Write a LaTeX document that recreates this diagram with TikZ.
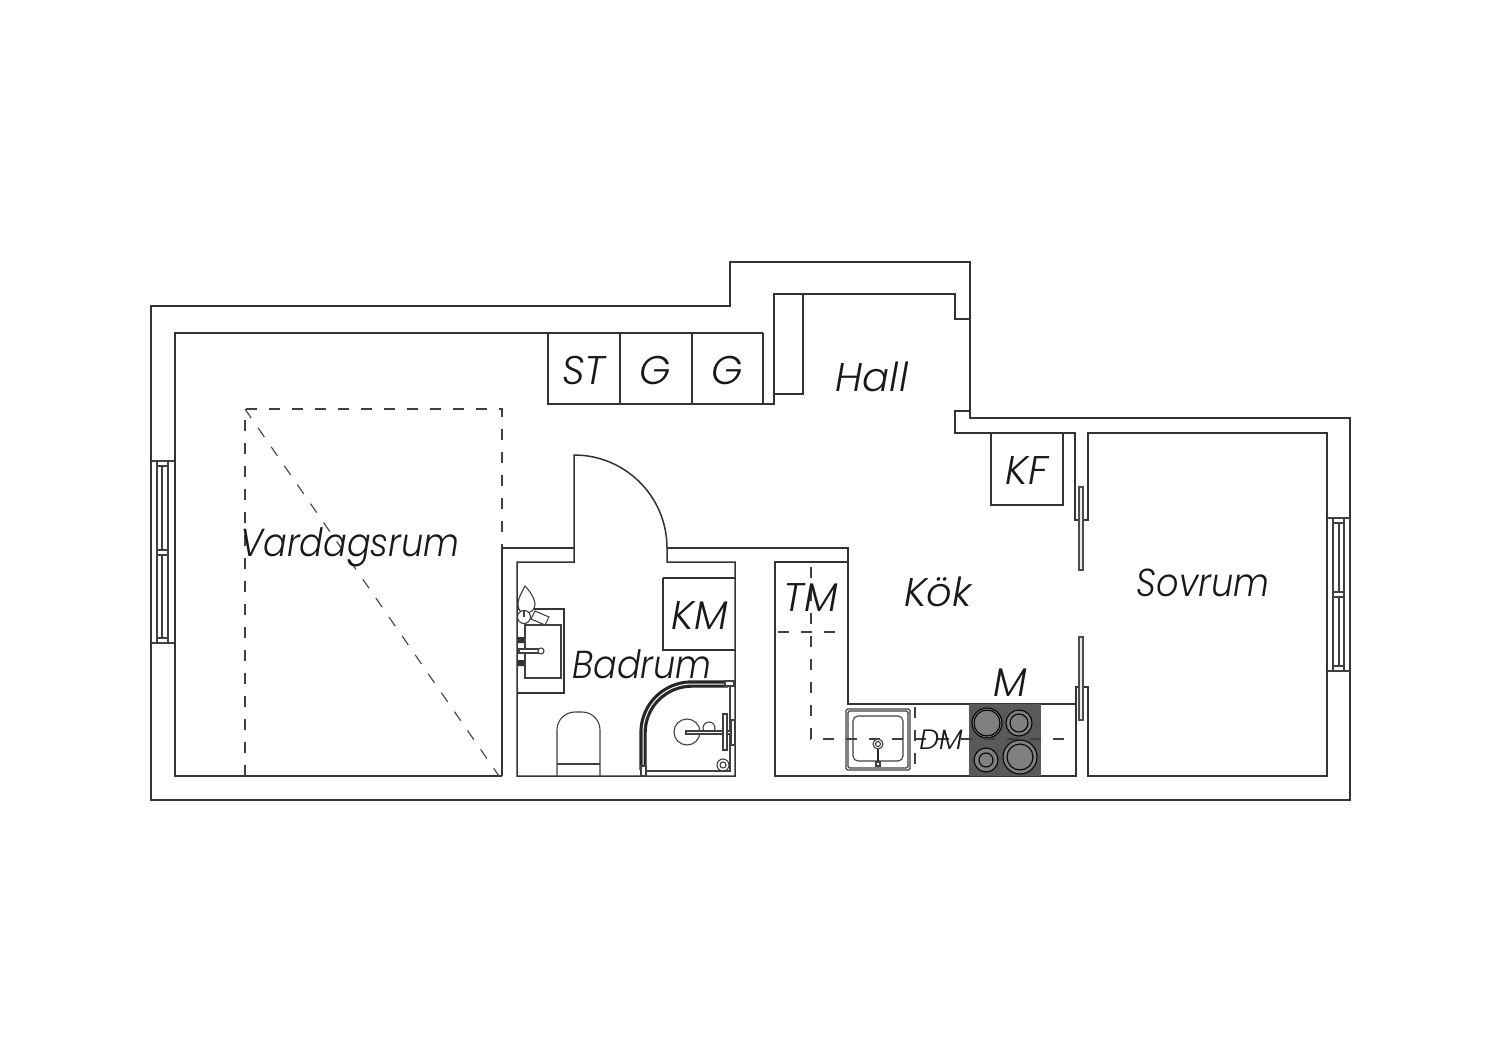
\documentclass[tikz,border=0pt]{standalone}
\usepackage{fontspec}
\newfontfamily\lblfont{Poppins}[UprightFont=* Light,ItalicFont=* Light Italic,FakeStretch=0.9]
\newfontfamily\capfont{Poppins}[UprightFont=* Light,ItalicFont=* Light Italic]
\tikzset{
  wall/.style={draw=black!80,line width=1.5pt,line join=miter},
  thin line/.style={draw=black!75,line width=1.1pt},
  dashline/.style={draw=black!75,line width=1.1pt,dash pattern=on 11pt off 12pt},
  lbl/.style={font=\lblfont\itshape\fontsize{39}{39}\selectfont,text=black!90,inner sep=0pt,anchor=base},
  cap lbl/.style={font=\capfont\itshape\fontsize{40}{40}\selectfont,text=black!90,inner sep=0pt,anchor=base},
  small lbl/.style={font=\capfont\itshape\fontsize{28}{28}\selectfont,text=black!90,inner sep=0pt,anchor=base},
  burner/.style={draw=black,line width=1.1pt,fill=black!50},
  doorleaf/.style={draw=black!70,line width=1.1pt,fill=black!8},
}
\begin{document}
\begin{tikzpicture}[x=1pt,y=-1pt]
\fill[white] (0,0) rectangle (1500,1060);
\useasboundingbox (0,0) rectangle (1500,1060);
% outer wall
\draw[wall] (151,306) -- (730,306) -- (730,262) -- (970,262) -- (970,418) -- (1350,418) -- (1350,800) -- (151,800) -- cycle;
% living room and hall outline
\draw[wall] (502,776) -- (175,776) -- (175,333) -- (763,333);
\draw[wall] (548,333) -- (548,404) -- (774,404) -- (774,294) -- (955,294) -- (955,319) -- (970,319);
\draw[wall] (620,333) -- (620,404) (692,333) -- (692,404) (763,333) -- (763,404);
\draw[wall] (774,394) -- (803,394) -- (803,294);
\draw[wall] (970,411) -- (955,411) -- (955,433) -- (1075,433) -- (1075,520) -- (1088,520) -- (1088,433) -- (1327,433) -- (1327,776) -- (1088,776) -- (1088,687) -- (1076,687) -- (1076,776) -- (775,776) -- (775,562) -- (848,562);
% central walls and door
\draw[wall] (502,776) -- (502,548) -- (574,548);
\draw[wall] (517,776) -- (517,562) -- (574,562) -- (574,455) .. controls (625.4,455) and (667,496.6) .. (667,548) -- (667,562) -- (735,562) -- (735,776) -- cycle;
\draw[wall] (667,548) -- (848,548) -- (848,704) -- (1076,704);
% cabinets
\draw[wall] (663,578) -- (735,578) (663,578) -- (663,650) -- (735,650);
\draw[wall] (991,433) -- (991,505) -- (1063,505) -- (1063,433);
% dashed bed
\draw[dashline] (245,776) -- (245,409) -- (502,409) -- (502,548);
\draw[dashline] (245,409) -- (499,776);
% left window
\fill[white] (152,461) rectangle (174,643);
\draw[wall] (151,455) -- (151,650) (175,455) -- (175,650);
\draw[thin line] (151,461) -- (175,461) (151,643) -- (175,643);
\draw[thin line] (157,461) rectangle (168,643);
\draw[thin line] (157,466) -- (168,466) (157,638) -- (168,638) (157,550) -- (168,550) (157,555) -- (168,555);
\draw[thin line] (162,466) -- (162,550) (162,555) -- (162,638);
% right window
\draw[thin line] (1327,518) -- (1350,518) (1327,671) -- (1350,671);
\draw[thin line] (1333,518) rectangle (1344,671);
\draw[thin line] (1333,523) -- (1344,523) (1333,666) -- (1344,666) (1333,592) -- (1344,592) (1333,597) -- (1344,597);
\draw[thin line] (1339,523) -- (1339,592) (1339,597) -- (1339,666);
% kitchen doors
\draw[doorleaf] (1079,487) rectangle (1083,570);
\draw[doorleaf] (1079,637) rectangle (1083,720);
% wash basin
\draw[wall] (517,609) -- (564,609) -- (564,693) -- (517,693);
\draw[thin line] (525,625) rectangle (561,678);
\draw[thin line,fill=white] (525,586) .. controls (531,592) and (535,600) .. (535,604) .. controls (535,610) and (531,613) .. (525,613) .. controls (520,613) and (518,609) .. (518,604) .. controls (518,598) and (522,592) .. (525,586) -- cycle;
\draw[thin line,fill=white] (524,617) circle[radius=6.5pt];
\draw[thin line] (524,611) -- (524,617);
\draw[thin line,fill=white] (535,611) -- (549,617) -- (545,625) -- (531,619) -- cycle;
\fill[black!80] (518,637) rectangle (524,643) (518,660) rectangle (524,666);
\draw[thin line,fill=white] (519,649) rectangle (541,653);
\draw[thin line,fill=white] (541,651) circle[radius=3pt];
% toilet
\draw[thin line,rounded corners=18pt] (557,776) -- (557,712) -- (600,712) -- (600,776);
\draw[thin line] (557,764) -- (600,764);
% shower
\draw[draw=black!85,line width=3.2pt,double=white,double distance=1pt] (643,770) -- (643,733) .. controls (643,705.4) and (665,684) .. (692,684) -- (728,684);
\draw[thin line] (730,684) -- (730,771) -- (645,771);
\draw[thin line,fill=white] (641,766) rectangle (646,776);
\draw[thin line,fill=white] (725,681) rectangle (734,686);
\draw[thin line] (687,732) circle[radius=13pt];
\draw[thin line,fill=white] (709,728) circle[radius=6pt];
\draw[thin line,fill=white] (686,731) rectangle (733,734);
\draw[thin line,fill=white] (723,714) rectangle (727,750);
\draw[thin line,fill=white] (731,720) rectangle (735,745);
\draw[thin line] (723,765) circle[radius=6pt] (723,765) circle[radius=3pt];
% kitchen sink
\draw[thin line,fill=white,rounded corners=1.5pt] (846,709) rectangle (910,770);
\draw[thin line,rounded corners=1.5pt] (848,711) rectangle (908,768);
\draw[thin line,rounded corners=5pt] (853,716) rectangle (903,761);
% hob
\fill[black!65] (969,704) rectangle (1041,776);
\draw[burner] (987,723) circle[radius=15pt] (987,723) circle[radius=13pt];
\draw[burner] (1019,723) circle[radius=13pt] (1019,723) circle[radius=9pt];
\draw[burner] (986,760) circle[radius=12pt] (986,760) circle[radius=7pt];
\draw[burner] (1020,757) circle[radius=17pt] (1020,757) circle[radius=13pt];
% dashed kitchen lines
\draw[dashline] (811,567) -- (811,739) -- (1075,739);
\draw[dashline] (778,632) -- (842,632);
\draw[dashline] (915,707) -- (915,770);
% sink tap
\draw[draw=black!85,line width=1.6pt] (878,744) -- (878,763);
\draw[thin line,fill=white] (876,762) rectangle (880,766);
\draw[thin line,fill=white] (878,744) circle[radius=5pt];
\draw[thin line] (878,744) circle[radius=2.5pt];
% labels
\node[cap lbl] (st) at (584,384) {ST};
\node[cap lbl] (g1) at (655,384) {G};
\node[cap lbl] (g2) at (727,384) {G};
\node[cap lbl] (hall) at (872,391) {Hall};
\node[cap lbl] (kf) at (1027,484) {KF};
\node[lbl] (vardag) at (350,556) {Vardagsrum};
\node[cap lbl] (kok) at (938,606) {Kök};
\node[lbl] (sovrum) at (1203,596) {Sovrum};
\node[cap lbl] (tm) at (811,611) {TM};
\node[cap lbl] (km) at (700,629) {KM};
\node[lbl] (badrum) at (642,678) {Badrum};
\node[cap lbl] (m) at (1010,696) {M};
\node[small lbl] (dm) at (941,749) {DM};
\end{tikzpicture}
\end{document}
